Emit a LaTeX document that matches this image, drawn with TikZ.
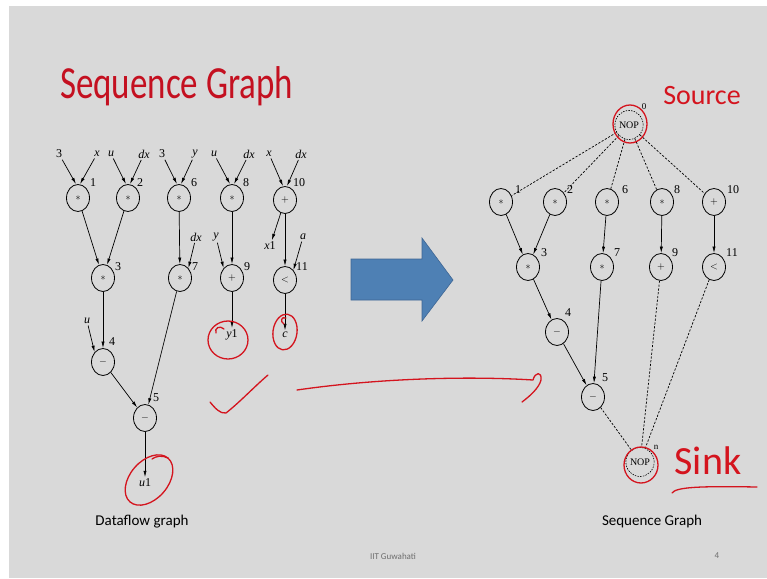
\documentclass[tikz,border=0pt]{standalone}
\usepackage{fontspec}
\setmainfont{Liberation Serif}
\newfontfamily\slidefont{Carlito}
\usetikzlibrary{shapes.geometric,arrows.meta}
\definecolor{slidegray}{RGB}{217,217,217}
\definecolor{titlered}{RGB}{196,16,32}
\definecolor{inkred}{RGB}{212,20,30}
\definecolor{bluefill}{RGB}{78,128,180}
\definecolor{blueedge}{RGB}{62,102,148}
\definecolor{footgray}{RGB}{110,110,110}
\begin{document}
\begin{tikzpicture}[x=1pt,y=-1pt,
 op/.style={ellipse,draw,line width=0.8pt,minimum width=23pt,minimum height=27pt,inner sep=0pt,font=\fontsize{10}{10}\selectfont},
 nop/.style={ellipse,draw,dashed,dash pattern=on 1.5pt off 1.2pt,line width=0.6pt,minimum width=28pt,minimum height=29pt,inner sep=0pt,font=\fontsize{10}{10}\selectfont},
 lbl/.style={inner sep=1.5pt,font=\fontsize{12}{12}\selectfont},
 var/.style={inner sep=1.5pt,font=\fontsize{12}{12}\selectfont\itshape},
 arr/.style={line width=0.7pt,-{Latex[length=6.5pt,width=3.2pt]}},
 dep/.style={line width=0.7pt,dash pattern=on 2.2pt off 1.6pt},
 ink/.style={draw=inkred,line width=1.3pt,line cap=round,line join=round},
 captxt/.style={inner sep=0pt,font=\slidefont\fontsize{15}{15}\selectfont},
]
\useasboundingbox (0,0) rectangle (767,578);
\fill[white] (0,0) rectangle (767,578);
\fill[slidegray] (9,6) rectangle (767,578);

% title
\node[anchor=base west,text=titlered,font=\slidefont\fontsize{46}{46}\selectfont,inner sep=0pt,xscale=0.76] (title) at (60,98) {Sequence Graph};

% ---------------- dataflow graph ----------------
\node[op] (L1) at (78,198) {$\ast$};
\node[op] (L2) at (128,198) {$\ast$};
\node[op] (L6) at (179,198) {$\ast$};
\node[op] (L8) at (232,198) {$\ast$};
\node[op] (L10) at (285,200) {$+$};
\node[op] (L3) at (103,278) {$\ast$};
\node[op] (L7) at (180,278) {$\ast$};
\node[op] (L9) at (232,278) {$+$};
\node[op] (L11) at (285,280) {$<$};
\node[op] (L4) at (103,362) {$-$};
\node[op] (L5) at (145,418) {$-$};

\node[lbl] (nL1) at (93,183) {1};
\node[lbl] (nL2) at (140,183) {2};
\node[lbl] (nL6) at (194,183) {6};
\node[lbl] (nL8) at (246,183) {8};
\node[lbl] (nL10) at (299,183) {10};
\node[lbl] (nL3) at (118,267) {3};
\node[lbl] (nL7) at (195,267) {7};
\node[lbl] (nL9) at (247,267) {9};
\node[lbl] (nL11) at (302,267) {11};
\node[lbl] (nL4) at (112,342) {4};
\node[lbl] (nL5) at (156,398) {5};

\node[lbl] (a1) at (59,154) {3};
\node[var] (b1) at (97,154) {x};
\node[var] (a2) at (111,154) {u};
\node[var] (b2) at (144,154) {dx};
\node[lbl] (a6) at (162,154) {3};
\node[var] (b6) at (195,154) {y};
\node[var] (a8) at (214,154) {u};
\node[var] (b8) at (249,154) {dx};
\node[var] (a10) at (269,154) {x};
\node[var] (b10) at (301,154) {dx};
\node[var] (dx7) at (196,237) {dx};
\node[var] (y9) at (216,237) {y};
\node[var] (a11) at (303,237) {a};
\node[var] (u4) at (87,321) {u};

\node[var] (x1) at (270,246) {x\upshape 1};
\node[var] (y1) at (232,335) {y\upshape 1};
\node[var] (c) at (285,335) {c};
\node[var] (u1) at (145,483) {u\upshape 1};

\draw[arr] (a1) -- ([xshift=-2pt]L1.north);
\draw[arr] (b1) -- ([xshift=2pt]L1.north);
\draw[arr] (a2) -- ([xshift=-2pt]L2.north);
\draw[arr] (b2) -- ([xshift=2pt]L2.north);
\draw[arr] (a6) -- ([xshift=-2pt]L6.north);
\draw[arr] (b6) -- ([xshift=2pt]L6.north);
\draw[arr] (a8) -- ([xshift=-2pt]L8.north);
\draw[arr] (b8) -- ([xshift=2pt]L8.north);
\draw[arr] (a10) -- ([xshift=-2pt]L10.north);
\draw[arr] (b10) -- ([xshift=2pt]L10.north);

\draw[arr] (L1) -- (L3);
\draw[arr] (L2) -- (L3);
\draw[arr] (L6) -- (L7);
\draw[arr] (dx7) -- (L7.north east);
\draw[arr] (L8) -- (L9);
\draw[arr] (y9) -- (L9.north west);
\draw[arr] (L10) -- (L11);
\draw[arr] (a11) -- (L11.north east);
\draw[arr] (L10) -- (x1);
\draw[arr] (L3) -- (L4);
\draw[arr] (u4) -- (L4.north west);
\draw[arr] (L4) -- (L5);
\draw[arr] (L7) -- (L5);
\draw[arr] (L5) -- (u1);
\draw[arr] (L9) -- (y1);
\draw[arr] (L11) -- (c);

\node[captxt] (dfcap) at (142,522) {Dataflow graph};

% ---------------- big arrow ----------------
\draw[fill=bluefill,draw=blueedge,line width=0.6pt]
  (351,259) -- (422,259) -- (422,238) -- (453,280) -- (422,321) -- (422,300) -- (351,300) -- cycle;

% ---------------- sequence graph ----------------
\node[nop] (R0) at (629,125) {NOP};
\node[op] (R1) at (501,202) {$\ast$};
\node[op] (R2) at (555,202) {$\ast$};
\node[op] (R6) at (607,202) {$\ast$};
\node[op] (R8) at (662,202) {$\ast$};
\node[op] (R10) at (714,202) {$+$};
\node[op] (R3) at (528,267) {$\ast$};
\node[op] (R7) at (602,267) {$\ast$};
\node[op] (R9) at (661,267) {$+$};
\node[op] (R11) at (714,267) {$<$};
\node[op] (R4) at (557,332) {$-$};
\node[op] (R5) at (593,397) {$-$};
\node[nop] (Rn) at (640,462) {NOP};

\node[lbl,font=\fontsize{9}{9}\selectfont] (nR0) at (644,107) {0};
\node[lbl] (nR1) at (518,190) {1};
\node[lbl] (nR2) at (570,190) {2};
\node[lbl] (nR6) at (625,190) {6};
\node[lbl] (nR8) at (677,190) {8};
\node[lbl] (nR10) at (733,190) {10};
\node[lbl] (nR3) at (544,253) {3};
\node[lbl] (nR7) at (617,253) {7};
\node[lbl] (nR9) at (675,253) {9};
\node[lbl] (nR11) at (732,253) {11};
\node[lbl] (nR4) at (568,313) {4};
\node[lbl] (nR5) at (605,378) {5};
\node[lbl,font=\fontsize{9}{9}\selectfont] (nRn) at (656,447) {n};

\draw[dep] (R0) -- (R1);
\draw[dep] (R0) -- (R2);
\draw[dep] (R0) -- (R6);
\draw[dep] (R0) -- (R8);
\draw[dep] (R0) -- (R10);
\draw[arr] (R1) -- (R3);
\draw[arr] (R2) -- (R3);
\draw[arr] (R6) -- (R7);
\draw[arr] (R8) -- (R9);
\draw[arr] (R10) -- (R11);
\draw[arr] (R3) -- (R4);
\draw[arr] (R4) -- (R5);
\draw[arr] (R7) -- (R5);
\draw[dep] (R5) -- (Rn);
\draw[dep] (R9) -- (Rn);
\draw[dep] (R11) -- (Rn);

\node[captxt] (sgcap) at (652,521) {Sequence Graph};

% footer
\node[inner sep=0pt,text=footgray,font=\slidefont\fontsize{9}{9}\selectfont] (foot) at (393,556) {IIT Guwahati};
\node[inner sep=0pt,text=footgray,font=\slidefont\fontsize{9}{9}\selectfont] (pnum) at (717,556) {4};

% ---------------- hand annotations ----------------
\draw[ink] (149,480) ellipse [x radius=29, y radius=19, rotate=49];
\draw[ink] (168,458) .. controls (162,455) and (156,456) .. (152,459);
\draw[ink] (228,340) ellipse [x radius=20, y radius=19];
\draw[ink] (216,333) .. controls (214,328) and (220,325) .. (224,329);
\draw[ink] (285,332) ellipse [x radius=12, y radius=18, rotate=-8];
\draw[ink] (286,318) .. controls (281,316) and (280,322) .. (284,324);
\draw[ink] (630,124) ellipse [x radius=17, y radius=19];
\draw[ink] (641,465) ellipse [x radius=17, y radius=18];
% check mark
\draw[ink] (210,402) .. controls (215,408) and (220,414) .. (226,413) .. controls (240,402) and (255,386) .. (268,375);
% hand arrow
\draw[ink] (297,390) .. controls (380,378) and (470,376) .. (533,380) .. controls (535,372) and (542,371) .. (541,380) .. controls (539,388) and (530,396) .. (522,402);
% Source / Sink
\node[text=inkred,font=\slidefont\fontsize{28}{28}\selectfont,inner sep=0pt] (srcnote) at (702,96) {Source};
\node[text=inkred,font=\slidefont\fontsize{40}{40}\selectfont,inner sep=0pt] (sinknote) at (708,461) {Sink};
\draw[ink] (672,493) .. controls (676,487) and (700,486) .. (757,487);
\end{tikzpicture}
\end{document}
